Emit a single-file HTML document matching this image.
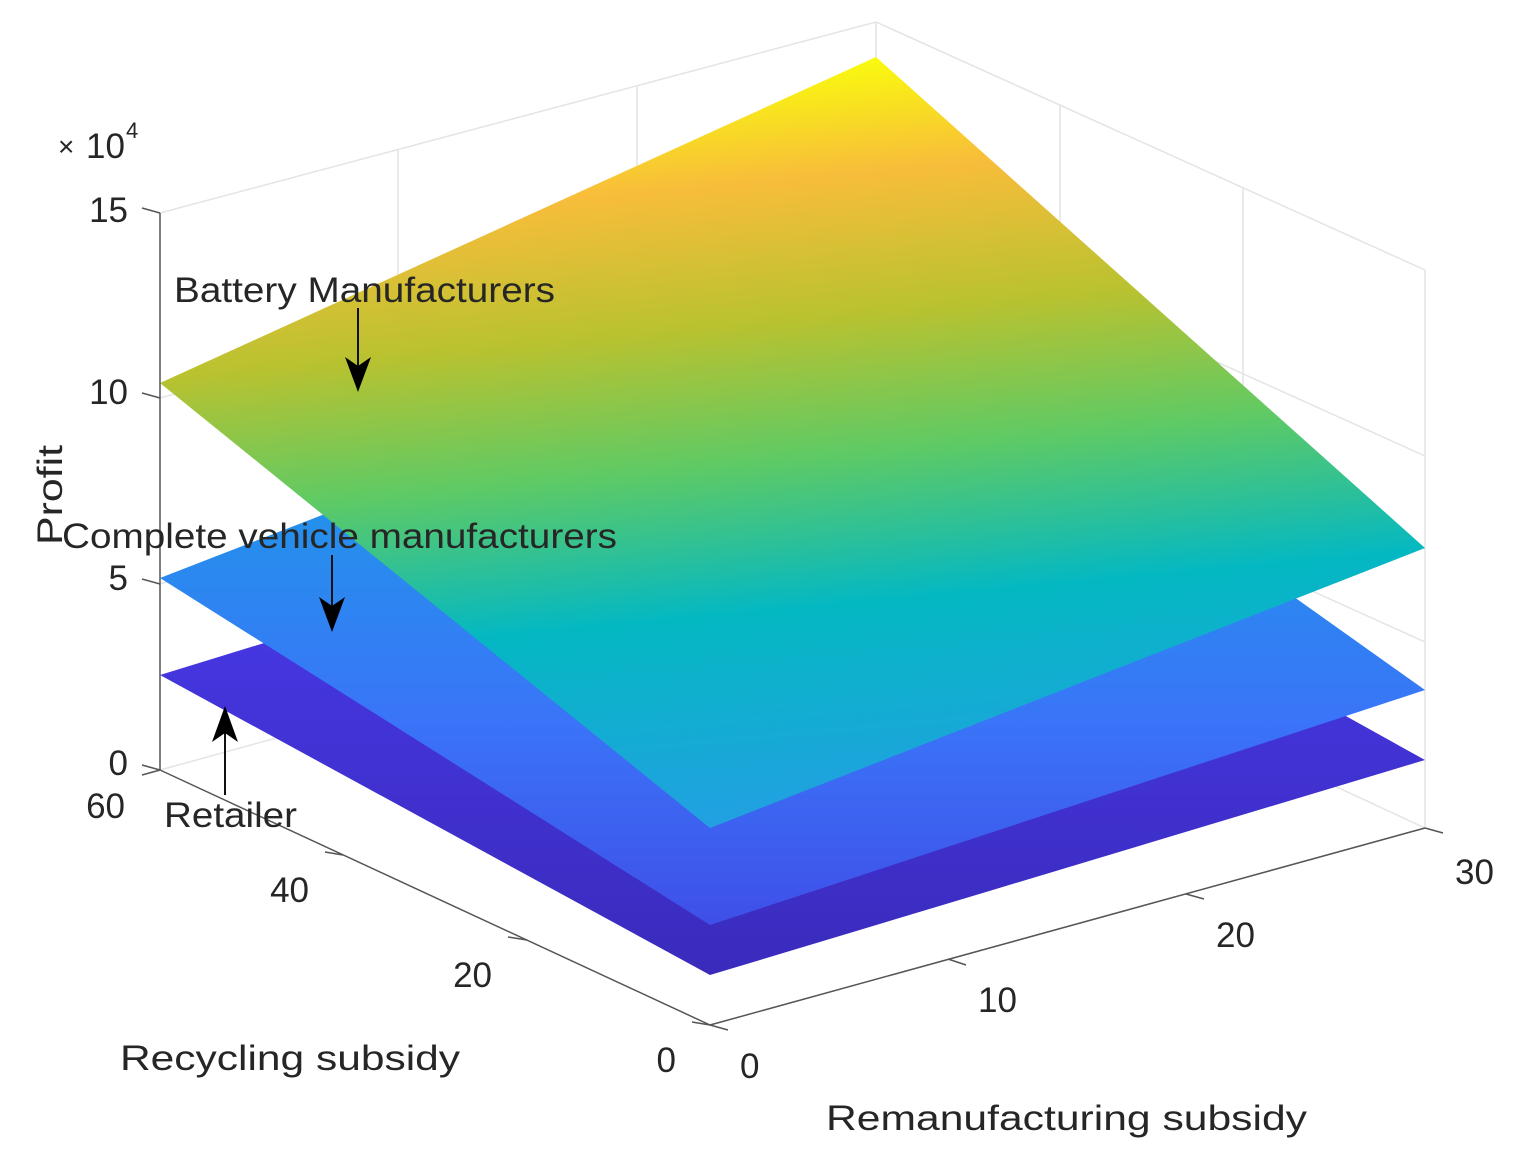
<!DOCTYPE html>
<html><head><meta charset="utf-8"><style>
html,body{margin:0;padding:0;background:#fff;}
svg{display:block;}
text{font-family:"Liberation Sans",sans-serif;fill:#262626;}
</style></head><body>
<svg width="1520" height="1170" viewBox="0 0 1520 1170" xmlns="http://www.w3.org/2000/svg">
<defs>
<linearGradient id="gb" gradientUnits="userSpaceOnUse" x1="876" y1="57" x2="945" y2="806">
<stop offset="0" stop-color="#f9fb0e"/>
<stop offset="0.15" stop-color="#f8bd3a"/>
<stop offset="0.34" stop-color="#b8c230"/>
<stop offset="0.52" stop-color="#5fca64"/>
<stop offset="0.72" stop-color="#04b8c2"/>
<stop offset="1" stop-color="#22a0e2"/>
</linearGradient>
<linearGradient id="gv" gradientUnits="userSpaceOnUse" x1="0" y1="520" x2="0" y2="925">
<stop offset="0" stop-color="#2590ec"/>
<stop offset="0.5" stop-color="#3a74f8"/>
<stop offset="1" stop-color="#3f4fe8"/>
</linearGradient>
<linearGradient id="gr" gradientUnits="userSpaceOnUse" x1="0" y1="640" x2="0" y2="975">
<stop offset="0" stop-color="#4536e0"/>
<stop offset="1" stop-color="#3a2bbc"/>
</linearGradient>
</defs>
<g stroke="#e4e4e4" stroke-width="1.5" fill="none">
<line x1="876" y1="22" x2="876" y2="573"/>
<line x1="398" y1="150" x2="398" y2="690"/>
<line x1="637" y1="86" x2="637" y2="620"/>
<line x1="1060" y1="105" x2="1060" y2="650"/>
<line x1="1243" y1="187" x2="1243" y2="745"/>
<line x1="160" y1="584" x2="876" y2="394"/>
<line x1="160" y1="398" x2="876" y2="208"/>
<line x1="876" y1="394" x2="1425" y2="642"/>
<line x1="876" y1="208" x2="1425" y2="456"/>
<line x1="160" y1="770" x2="876" y2="573"/>
<line x1="876" y1="573" x2="1425" y2="828"/>
<line x1="160" y1="213" x2="876" y2="22"/>
<line x1="876" y1="22" x2="1425" y2="270"/>
<line x1="1425" y1="270" x2="1425" y2="828"/>
</g>
<polygon points="160,675 876,455 1425,760 710,975" fill="url(#gr)"/>
<polygon points="160,578 876,300 1425,690 710,925" fill="url(#gv)"/>
<polygon points="160,383 876,57 1425,548 710,828" fill="url(#gb)"/>
<g stroke="#555" stroke-width="1.5" fill="none">
<line x1="160" y1="213" x2="160" y2="770"/>
<line x1="160" y1="770" x2="710" y2="1025"/>
<line x1="710" y1="1025" x2="1425" y2="828"/>
<line x1="142" y1="208" x2="160" y2="213"/>
<line x1="142" y1="393" x2="160" y2="398"/>
<line x1="142" y1="579" x2="160" y2="584"/>
<line x1="142" y1="765" x2="160" y2="770"/>
<line x1="142" y1="775" x2="160" y2="770"/>
<line x1="325" y1="852" x2="343" y2="855"/>
<line x1="508" y1="937" x2="527" y2="940"/>
<line x1="692" y1="1022" x2="710" y2="1025"/>
<line x1="710" y1="1025" x2="728" y2="1030"/>
<line x1="948" y1="959" x2="966" y2="965"/>
<line x1="1186" y1="894" x2="1204" y2="899"/>
<line x1="1425" y1="828" x2="1443" y2="833"/>
</g>
<g font-size="35">
<text x="128" y="222" text-anchor="end">15</text>
<text x="128" y="404" text-anchor="end">10</text>
<text x="128" y="590" text-anchor="end">5</text>
<text x="128" y="775" text-anchor="end">0</text>
<text x="58" y="156" font-size="28" fill="#555">×</text>
<text x="86" y="158">10</text>
<text x="126" y="138" font-size="22">4</text>
<text x="125" y="818" text-anchor="end">60</text>
<text x="309" y="902" text-anchor="end">40</text>
<text x="492" y="987" text-anchor="end">20</text>
<text x="676" y="1072" text-anchor="end">0</text>
<text x="740" y="1078">0</text>
<text x="978" y="1012">10</text>
<text x="1216" y="947">20</text>
<text x="1455" y="884">30</text>
<text x="120" y="1070" textLength="340" lengthAdjust="spacingAndGlyphs">Recycling subsidy</text>
<text x="826" y="1130" textLength="481" lengthAdjust="spacingAndGlyphs">Remanufacturing subsidy</text>
<text transform="translate(62,545) rotate(-90)" textLength="100" lengthAdjust="spacingAndGlyphs">Profit</text>
<text x="174" y="302" textLength="381" lengthAdjust="spacingAndGlyphs">Battery Manufacturers</text>
<text x="62" y="548" textLength="555" lengthAdjust="spacingAndGlyphs">Complete vehicle manufacturers</text>
<text x="164" y="827" textLength="133" lengthAdjust="spacingAndGlyphs">Retailer</text>
</g>
<g stroke="#111" stroke-width="2" fill="#000">
<line x1="358" y1="308" x2="358" y2="370"/>
<polygon points="345,357 358,392 371,357 358,366" stroke="none"/>
<line x1="332" y1="555" x2="332" y2="610"/>
<polygon points="319,597 332,632 345,597 332,606" stroke="none"/>
<line x1="225" y1="795" x2="225" y2="728"/>
<polygon points="212,742 225,706 238,742 225,733" stroke="none"/>
</g>
</svg>
</body></html>
